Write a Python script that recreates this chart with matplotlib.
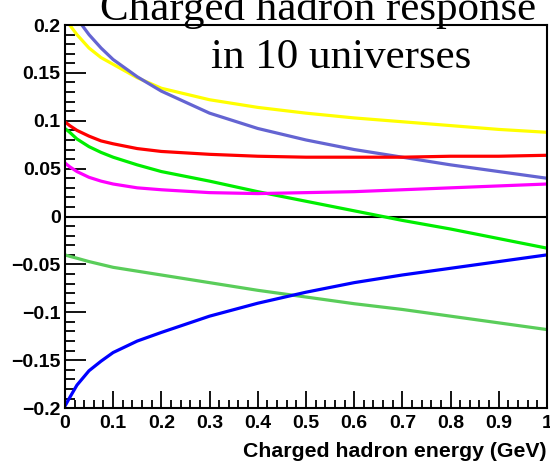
import matplotlib.pyplot as plt
import numpy as np
from matplotlib.ticker import MultipleLocator

# Energia (GeV) onde as curvas foram lidas
energia = [0.0, 0.01, 0.025, 0.05, 0.075, 0.1, 0.15, 0.2, 0.3, 0.4, 0.5, 0.6, 0.7, 0.8, 0.9, 1.0]

# Resposta em cada universo (so os visiveis no intervalo)
amarelo = [0.205, 0.200, 0.190, 0.176, 0.166, 0.159, 0.145, 0.134, 0.122, 0.114, 0.108, 0.103, 0.099, 0.095, 0.091, 0.088]
azul_claro = [0.228, 0.219, 0.207, 0.190, 0.176, 0.164, 0.146, 0.131, 0.108, 0.092, 0.080, 0.070, 0.062, 0.054, 0.047, 0.040]
vermelho = [0.099, 0.095, 0.090, 0.084, 0.079, 0.076, 0.071, 0.068, 0.065, 0.063, 0.062, 0.062, 0.062, 0.063, 0.063, 0.064]
verde = [0.092, 0.088, 0.081, 0.073, 0.067, 0.062, 0.054, 0.047, 0.037, 0.026, 0.016, 0.006, -0.004, -0.013, -0.023, -0.033]
magenta = [0.056, 0.052, 0.047, 0.041, 0.037, 0.034, 0.030, 0.028, 0.025, 0.024, 0.025, 0.026, 0.028, 0.030, 0.032, 0.034]
verde_medio = [-0.040, -0.0415, -0.0435, -0.047, -0.050, -0.053, -0.057, -0.061, -0.069, -0.077, -0.084, -0.091, -0.097, -0.104, -0.111, -0.118]
azul = [-0.198, -0.189, -0.176, -0.161, -0.151, -0.142, -0.130, -0.121, -0.104, -0.0905, -0.079, -0.069, -0.061, -0.054, -0.047, -0.040]

curvas = [amarelo, azul_claro, vermelho, verde, magenta, verde_medio, azul]
cores = ['#ffff00', '#6464d2', '#ff0000', '#00ee00', '#ff00ff', '#5acd5a', '#0000ff']

fig = plt.figure(figsize=(5.5, 4.68), dpi=100)
ax = fig.add_axes([0.118, 0.128, 0.8765, 0.8185])

ax.axhline(0, color='black', lw=1.5, zorder=1)
for y, c in zip(curvas, cores):
    ax.plot(energia, y, color=c, lw=2.3, solid_capstyle='butt', zorder=2)

ax.set_xlim(0, 1)
ax.set_ylim(-0.2, 0.2)

ax.xaxis.set_major_locator(MultipleLocator(0.1))
ax.xaxis.set_minor_locator(MultipleLocator(0.02))
ax.yaxis.set_major_locator(MultipleLocator(0.05))
ax.yaxis.set_minor_locator(MultipleLocator(0.01))

def rotulo(v, pos):
    if abs(v) < 1e-9:
        return '0'
    if abs(v - 1) < 1e-9:
        return '1'
    return ('%g' % v).replace('-', '\u2212')

ax.xaxis.set_major_formatter(rotulo)
ax.yaxis.set_major_formatter(rotulo)

ax.tick_params(axis='both', which='both', direction='in', top=False, right=False, width=1.3)
ax.tick_params(axis='y', which='major', length=15, pad=3)
ax.tick_params(axis='y', which='minor', length=7.5)
ax.tick_params(axis='x', which='major', length=12, pad=5)
ax.tick_params(axis='x', which='minor', length=6)
for lab in ax.get_xticklabels() + ax.get_yticklabels():
    lab.set_fontfamily('Liberation Sans')
    lab.set_fontweight('bold')
    lab.set_fontsize(14)

for s in ax.spines.values():
    s.set_linewidth(1.5)

ax.set_xlabel('Charged hadron energy (GeV)', fontfamily='Liberation Sans', fontweight='bold',
              fontsize=15.3, loc='right', labelpad=7)

# Titulo em duas linhas, estilo ROOT
fig.text(318 / 550, 1 - 20 / 468, 'Charged hadron response', fontfamily='Liberation Serif',
         fontsize=31, ha='center', va='baseline')
fig.text(341 / 550, 1 - 68 / 468, 'in 10 universes', fontfamily='Liberation Serif',
         fontsize=31, ha='center', va='baseline')

plt.savefig('out.png', dpi=100)
